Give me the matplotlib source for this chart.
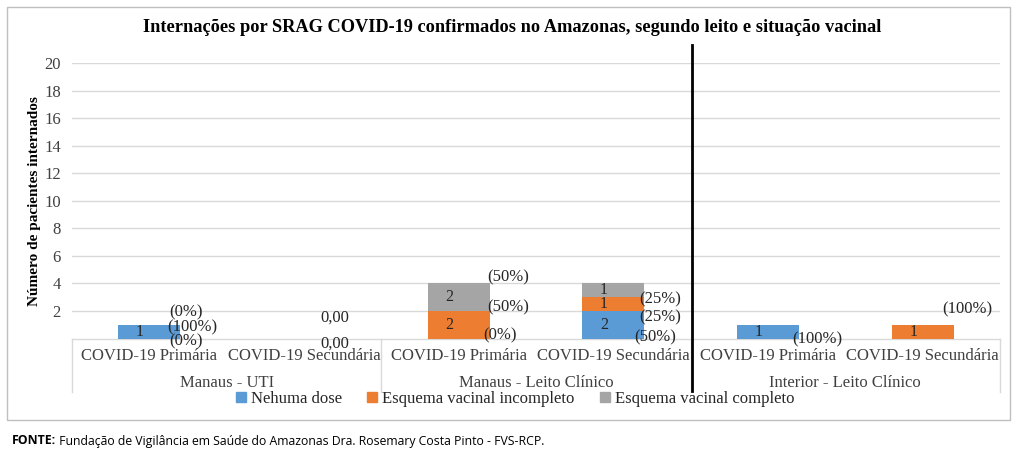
import numpy as np
import matplotlib
matplotlib.use("Agg")
import matplotlib.pyplot as plt
from matplotlib.patches import Patch, Rectangle

plt.rcParams["font.family"] = ["Liberation Serif", "DejaVu Serif"]

# data
categorias = ["COVID-19 Primária", "COVID-19 Secundária",
              "COVID-19 Primária", "COVID-19 Secundária",
              "COVID-19 Primária", "COVID-19 Secundária"]
grupos = ["Manaus - UTI", "Manaus - Leito Clínico", "Interior - Leito Clínico"]
series = ["Nehuma dose", "Esquema vacinal incompleto", "Esquema vacinal completo"]
nenhuma = [1, 0, 0, 2, 1, 0]
incompleto = [0, 0, 2, 1, 0, 1]
completo = [0, 0, 2, 1, 0, 0]
cores = ["#5B9BD5", "#ED7D31", "#A5A5A5"]

# rótulos percentuais (Excel deixa-os meio soltos): (categoria, dx, y, texto)
pct_labels = [
    (0, 0.24, 1.92, "(0%)"), (0, 0.28, 0.84, "(100%)"), (0, 0.24, -0.18, "(0%)"),
    (1, 0.20, 1.49, "0,00"), (1, 0.20, -0.40, "0,00"),
    (2, 0.32, 4.47, "(50%)"), (2, 0.32, 2.29, "(50%)"), (2, 0.27, 0.25, "(0%)"),
    (3, 0.30, 2.87, "(25%)"), (3, 0.30, 1.56, "(25%)"), (3, 0.27, 0.10, "(50%)"),
    (4, 0.32, -0.10, "(100%)"),
    (5, 0.29, 2.14, "(100%)"),
]

W, H = 1024, 455
fig = plt.figure(figsize=(W / 100, H / 100), dpi=100)
fig.patches.append(Rectangle((7 / W, 1 - 420 / H), 1003 / W, 413 / H,
                             transform=fig.transFigure, fill=False,
                             edgecolor="#BFBFBF", lw=1.0))

x0, x1, yb, yt = 72, 1000, 338.5, 63
ax = fig.add_axes([x0 / W, 1 - yb / H, (x1 - x0) / W, (yb - yt) / H])
x = np.arange(len(categorias))
ax.set_xlim(-0.5, len(categorias) - 0.5)
ax.set_ylim(0, 20)

bw = 0.4
bottom = np.zeros(len(x))
for vals, c in zip([nenhuma, incompleto, completo], cores):
    vals = np.array(vals, dtype=float)
    ax.bar(x, vals, bw, bottom=bottom, color=c, zorder=3)
    for xi, v, b in zip(x, vals, bottom):
        if v > 0:
            ax.text(xi - 0.06, b + v / 2, f"{int(v)}", ha="center", va="center",
                    fontsize=11.5, color="#262626", zorder=4)
    bottom += vals

for ci, dx, y, t in pct_labels:
    ax.text(x[ci] + dx, y, t, ha="center", va="center", fontsize=12,
            color="#262626", zorder=5, clip_on=False)

ax.set_yticks(range(2, 21, 2))
ax.tick_params(axis="y", length=0, labelsize=12, pad=8, labelcolor="#404040")
ax.set_xticks([])
ax.yaxis.grid(True, color="#D9D9D9", lw=1.0, zorder=0)
for s in ax.spines.values():
    s.set_visible(False)
ax.set_ylabel("Número de pacientes internados", fontsize=11, fontweight="bold")
ax.yaxis.set_label_coords(-(x0 - 41) / (x1 - x0), (yb - 201) / (yb - yt))

# tabela do eixo categórico
tr = ax.get_xaxis_transform()
ax.plot([-0.5, 5.5], [0, 0], transform=tr, color="#D9D9D9", lw=1.0, clip_on=False)
for xb in [-0.5, 1.5, 3.5, 5.5]:
    ax.plot([xb, xb], [0, -0.195], transform=tr, color="#D9D9D9", lw=1.0,
            clip_on=False)
for xi, lab in zip(x, categorias):
    ax.text(xi, -0.063, lab, transform=tr, ha="center", va="center",
            fontsize=12, color="#404040")
for gi, g in enumerate(grupos):
    ax.text(2 * gi + 0.5, -0.162, g, transform=tr, ha="center", va="center",
            fontsize=12, color="#404040")

# linha vertical preta separando Manaus / Interior
ax.plot([3.51, 3.51], [(yb - 45) / (yb - yt), -0.19], transform=tr,
        color="black", lw=2.0, clip_on=False, zorder=6)

fig.text(0.5 * (148 + 876) / W, 1 - 28 / H,
         "Internações por SRAG COVID-19 confirmados no Amazonas, segundo leito e situação vacinal",
         fontsize=13.2, fontweight="bold", ha="center", va="center")

handles = [Patch(color=c, label=s) for c, s in zip(cores, series)]
fig.legend(handles=handles, loc="center", bbox_to_anchor=(0.503, 1 - 399 / H), ncol=3,
           frameon=False, fontsize=12, handlelength=0.6, handleheight=0.6,
           handletextpad=0.3, columnspacing=1.5, labelcolor="#262626")

fonte = fig.text(12 / W, 1 - 441 / H, "FONTE:", fontsize=8.8, family="Open Sans",
                 fontweight="bold", va="center", ha="left")
fig.canvas.draw()
bb = fonte.get_window_extent()
fig.text(bb.x1 / W, 1 - 441 / H,
         " Fundação de Vigilância em Saúde do Amazonas Dra. Rosemary Costa Pinto - FVS-RCP.",
         fontsize=8.8, family="Open Sans", va="center", ha="left")

fig.savefig("out.png", dpi=100)
